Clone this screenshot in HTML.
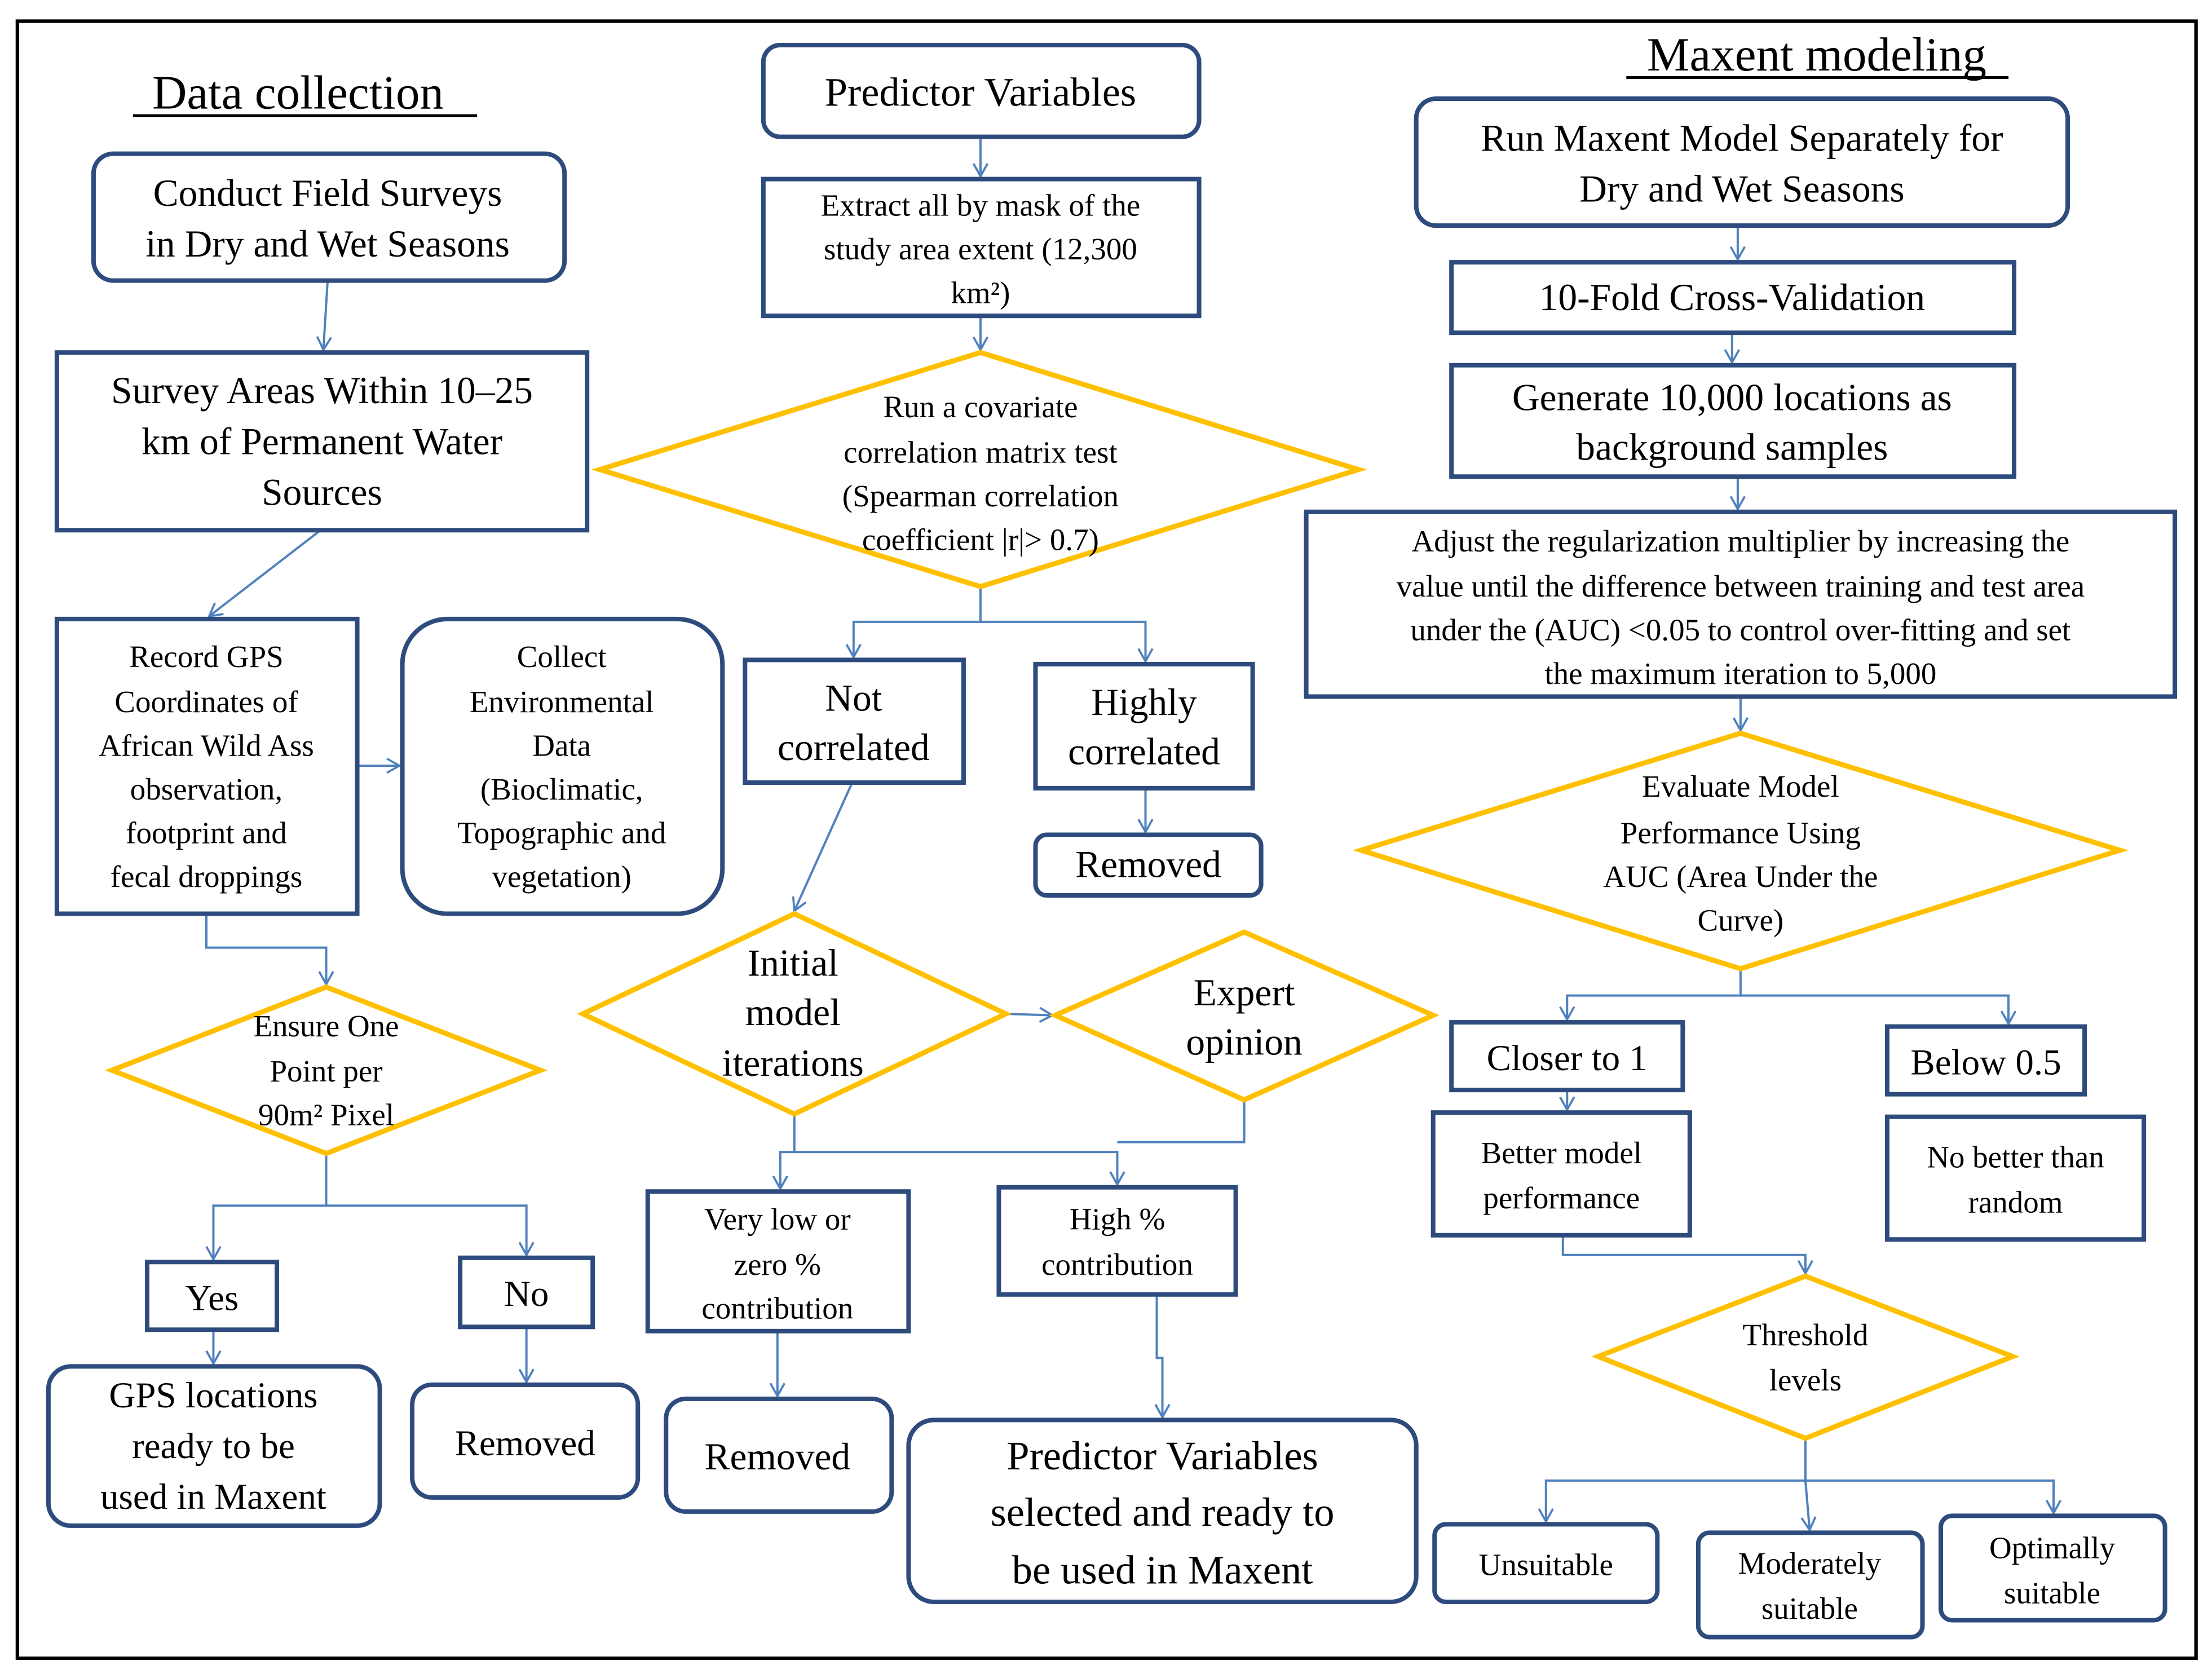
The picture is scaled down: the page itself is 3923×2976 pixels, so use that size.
<!DOCTYPE html>
<html><head><meta charset="utf-8"><style>
html,body{margin:0;padding:0;background:#fff;}
svg{display:block;}
text{font-family:"Liberation Serif",serif;fill:#000;text-anchor:middle;}
.b{fill:#fff;stroke:#2E4B7D;stroke-width:3.2;}
.d{fill:#fff;stroke:#FFC000;stroke-width:3.6;}
.c{fill:none;stroke:#4F81BD;stroke-width:1.6;}
</style></head><body>
<svg width="3923" height="2976" viewBox="0 0 1568 1190" xmlns="http://www.w3.org/2000/svg">
<defs><marker id="a" markerWidth="12" markerHeight="12" refX="10" refY="6" orient="auto" markerUnits="userSpaceOnUse"><path d="M1,1 L10,6 L1,11" fill="none" stroke="#4F81BD" stroke-width="1.5"/></marker></defs>
<rect x="12" y="15" width="1545" height="1161" fill="none" stroke="#000" stroke-width="2.5"/>

<text x="211" y="77" font-size="34">Data collection</text>
<line x1="94" y1="82" x2="338" y2="82" stroke="#000" stroke-width="2"/>
<text x="1288" y="50" font-size="34">Maxent modeling</text>
<line x1="1153" y1="55" x2="1424" y2="55" stroke="#000" stroke-width="2"/>

<!-- connectors -->
<g class="c">
<path d="M232,199 L229,248" marker-end="url(#a)"/>
<path d="M227,376 L148,437" marker-end="url(#a)"/>
<path d="M253,543 L283,543" marker-end="url(#a)"/>
<path d="M146,648 V672 H231 V698" marker-end="url(#a)"/>
<path d="M231,818 V855 H151 V893" marker-end="url(#a)"/>
<path d="M231,855 H373 V890" marker-end="url(#a)"/>
<path d="M151,943 V967" marker-end="url(#a)"/>
<path d="M373,941 V980" marker-end="url(#a)"/>
<path d="M695,97 V125" marker-end="url(#a)"/>
<path d="M695,224 V248" marker-end="url(#a)"/>
<path d="M695,416 V441 H605 V466" marker-end="url(#a)"/>
<path d="M695,441 H812 V469" marker-end="url(#a)"/>
<path d="M812,559 V590" marker-end="url(#a)"/>
<path d="M604,555 L563,646" marker-end="url(#a)"/>
<path d="M713,719 L746,720" marker-end="url(#a)"/>
<path d="M563,790 V817 H553 V843" marker-end="url(#a)"/>
<path d="M563,817 H792 V840" marker-end="url(#a)"/>
<path d="M882,780 V810 H792"/>
<path d="M551,944 V990" marker-end="url(#a)"/>
<path d="M820,918 V963 H824 V1005" marker-end="url(#a)"/>
<path d="M1232,160 V184" marker-end="url(#a)"/>
<path d="M1228,236 V257" marker-end="url(#a)"/>
<path d="M1232,338 V361" marker-end="url(#a)"/>
<path d="M1234,494 V518" marker-end="url(#a)"/>
<path d="M1234,687 V706 H1111 V723" marker-end="url(#a)"/>
<path d="M1234,706 H1424 V726" marker-end="url(#a)"/>
<path d="M1111,773 V787" marker-end="url(#a)"/>
<path d="M1108,876 V890 H1280 V903" marker-end="url(#a)"/>
<path d="M1280,1020 V1050 H1096 V1079" marker-end="url(#a)"/>
<path d="M1280,1050 H1456 V1073" marker-end="url(#a)"/>
<path d="M1280,1050 L1283,1085" marker-end="url(#a)"/>
</g>

<!-- left column -->
<rect class="b" x="66" y="109" width="334" height="90" rx="14"/>
<text x="232" y="146" font-size="27">Conduct Field Surveys</text>
<text x="232" y="182" font-size="27">in Dry and Wet Seasons</text>

<rect class="b" x="40" y="250" width="376" height="126"/>
<text x="228" y="286" font-size="27">Survey Areas Within  10–25</text>
<text x="228" y="322" font-size="27">km of Permanent Water</text>
<text x="228" y="358" font-size="27">Sources</text>

<rect class="b" x="40" y="439" width="213" height="209"/>
<g font-size="22"><text x="146" y="473">Record GPS</text><text x="146" y="505">Coordinates  of</text><text x="146" y="536">African  Wild Ass</text><text x="146" y="567">observation,</text><text x="146" y="598">footprint  and</text><text x="146" y="629">fecal droppings</text></g>

<rect class="b" x="285" y="439" width="227" height="209" rx="32"/>
<g font-size="22"><text x="398" y="473">Collect</text><text x="398" y="505">Environmental</text><text x="398" y="536">Data</text><text x="398" y="567">(Bioclimatic,</text><text x="398" y="598">Topographic  and</text><text x="398" y="629">vegetation)</text></g>

<polygon class="d" points="231,700 383,759 231,818 79,759"/>
<g font-size="22"><text x="231" y="735">Ensure  One</text><text x="231" y="767">Point  per</text><text x="231" y="798">90m² Pixel</text></g>

<rect class="b" x="104" y="895" width="92" height="48"/>
<text x="150" y="929" font-size="26">Yes</text>
<rect class="b" x="326" y="892" width="94" height="49"/>
<text x="373" y="926" font-size="26">No</text>

<rect class="b" x="34" y="969" width="235" height="113" rx="16"/>
<g font-size="26"><text x="151" y="998">GPS locations</text><text x="151" y="1034">ready to be</text><text x="151" y="1070">used in Maxent</text></g>
<rect class="b" x="292" y="982" width="160" height="80" rx="14"/>
<text x="372" y="1032" font-size="26">Removed</text>

<!-- middle column -->
<rect class="b" x="541" y="32" width="309" height="65" rx="12"/>
<text x="695" y="75" font-size="29">Predictor Variables</text>
<rect class="b" x="541" y="127" width="309" height="97"/>
<g font-size="22"><text x="695" y="153">Extract  all  by mask of the</text><text x="695" y="184">study  area extent  (12,300</text><text x="695" y="215">km²)</text></g>

<polygon class="d" points="695,250 963,333 695,416 425,333"/>
<g font-size="22"><text x="695" y="296">Run  a covariate</text><text x="695" y="328">correlation  matrix  test</text><text x="695" y="359">(Spearman  correlation</text><text x="695" y="390">coefficient  |r|&gt; 0.7)</text></g>

<rect class="b" x="528" y="468" width="155" height="87"/>
<g font-size="27"><text x="605" y="504">Not</text><text x="605" y="539">correlated</text></g>
<rect class="b" x="734" y="471" width="154" height="88"/>
<g font-size="27"><text x="811" y="507">Highly</text><text x="811" y="542">correlated</text></g>
<rect class="b" x="734" y="592" width="160" height="43" rx="8"/>
<text x="814" y="622" font-size="27">Removed</text>

<polygon class="d" points="563,648 713,719 563,790 413,719"/>
<g font-size="27"><text x="562" y="692">Initial</text><text x="562" y="727">model</text><text x="562" y="763">iterations</text></g>
<polygon class="d" points="882,661 1016,720 882,780 748,720"/>
<g font-size="27"><text x="882" y="713">Expert</text><text x="882" y="748">opinion</text></g>

<rect class="b" x="459" y="845" width="185" height="99"/>
<g font-size="22"><text x="551" y="872">Very low  or</text><text x="551" y="904">zero  %</text><text x="551" y="935">contribution</text></g>
<rect class="b" x="708" y="842" width="168" height="76"/>
<g font-size="22"><text x="792" y="872">High  %</text><text x="792" y="904">contribution</text></g>

<rect class="b" x="472" y="992" width="160" height="80" rx="14"/>
<text x="551" y="1042" font-size="27">Removed</text>
<rect class="b" x="644" y="1007" width="360" height="129" rx="18"/>
<g font-size="29"><text x="824" y="1042">Predictor Variables</text><text x="824" y="1082">selected and ready  to</text><text x="824" y="1123">be used  in Maxent</text></g>

<!-- right column -->
<rect class="b" x="1004" y="70" width="462" height="90" rx="14"/>
<g font-size="27"><text x="1235" y="107">Run Maxent  Model  Separately  for</text><text x="1235" y="143">Dry and Wet Seasons</text></g>
<rect class="b" x="1029" y="186" width="399" height="50"/>
<text x="1228" y="220" font-size="27">10-Fold Cross-Validation</text>
<rect class="b" x="1029" y="259" width="399" height="79"/>
<g font-size="27"><text x="1228" y="291">Generate  10,000 locations as</text><text x="1228" y="326">background samples</text></g>
<rect class="b" x="926" y="363" width="616" height="131"/>
<g font-size="22"><text x="1234" y="391">Adjust  the regularization  multiplier  by increasing  the</text><text x="1234" y="423">value  until  the difference  between training  and test area</text><text x="1234" y="454">under the (AUC) &lt;0.05 to control over-fitting  and set</text><text x="1234" y="485">the maximum  iteration  to 5,000</text></g>

<polygon class="d" points="1234,520 1503,603 1234,687 965,603"/>
<g font-size="22"><text x="1234" y="565">Evaluate  Model</text><text x="1234" y="598">Performance  Using</text><text x="1234" y="629">AUC (Area Under the</text><text x="1234" y="660">Curve)</text></g>

<rect class="b" x="1029" y="725" width="164" height="48"/>
<text x="1111" y="759" font-size="26">Closer to 1</text>
<rect class="b" x="1338" y="728" width="140" height="48"/>
<text x="1408" y="762" font-size="26">Below 0.5</text>
<rect class="b" x="1016" y="789" width="182" height="87"/>
<g font-size="22"><text x="1107" y="825">Better model</text><text x="1107" y="857">performance</text></g>
<rect class="b" x="1338" y="792" width="182" height="87"/>
<g font-size="22"><text x="1429" y="828">No better  than</text><text x="1429" y="860">random</text></g>

<polygon class="d" points="1280,905 1427,962 1280,1020 1133,962"/>
<g font-size="22"><text x="1280" y="954">Threshold</text><text x="1280" y="986">levels</text></g>

<rect class="b" x="1017" y="1081" width="158" height="55" rx="8"/>
<text x="1096" y="1117" font-size="22">Unsuitable</text>
<rect class="b" x="1204" y="1087" width="159" height="74" rx="8"/>
<g font-size="22"><text x="1283" y="1116">Moderately</text><text x="1283" y="1148">suitable</text></g>
<rect class="b" x="1376" y="1075" width="159" height="74" rx="8"/>
<g font-size="22"><text x="1455" y="1105">Optimally</text><text x="1455" y="1137">suitable</text></g>
</svg>
</body></html>
